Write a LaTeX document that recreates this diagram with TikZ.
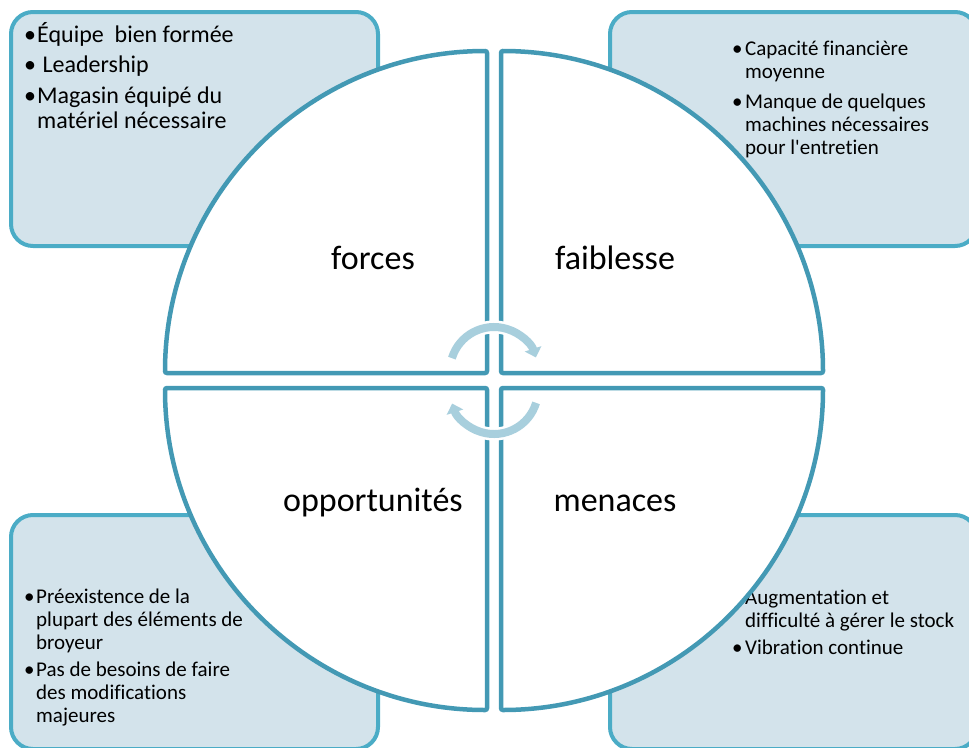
\documentclass[tikz,border=0pt]{standalone}
\usepackage{fontspec}
\setmainfont{Carlito}[Ligatures={NoCommon}]
\usetikzlibrary{arrows.meta}

\definecolor{bordquart}{RGB}{67,153,180}
\definecolor{bordcadre}{RGB}{75,172,198}
\definecolor{fondcadre}{RGB}{211,227,235}
\definecolor{fleche}{RGB}{168,207,221}

\newcommand{\puce}[1]{\makebox[#1][l]{\textbullet}}

\tikzset{
    cadre/.style={draw=bordcadre, fill=fondcadre, line width=4pt, rounded corners=22pt},
    quartier/.style={draw=bordquart, fill=white, line width=4.5pt, rounded corners=2pt},
    titre/.style={font=\fontsize{34}{40}\selectfont, anchor=base, inner sep=0pt},
    liste/.style={anchor=base west, inner sep=0pt},
    tour/.style={draw=fleche, line width=8pt, -{Triangle[width=17pt,length=9pt]},
        preaction={draw=white, line width=13pt, -}}
}

\begin{document}
\begin{tikzpicture}[x=1pt, y=-1pt]
                \useasboundingbox (0,0) rectangle (969,747);

                \draw[cadre] (11, 12) rectangle (378, 246);
                \draw[cadre] (610, 12) rectangle (977, 246);
                \draw[cadre] (11, 515) rectangle (378, 749);
                \draw[cadre] (610, 515) rectangle (977, 749);

                \node[liste, font=\fontsize{24}{25.5}\selectfont] (forcestxt) at (24, 42) {%
                    \begin{tabular}[t]{@{}l@{}l@{}}
                        \puce{13pt} & Équipe\ \ bien formée\\[5pt]
                        \puce{13pt} & \ Leadership\\[5pt]
                        \puce{13pt} & Magasin équipé du\\
                        & matériel nécessaire
                    \end{tabular}};

                \node[liste, font=\fontsize{21}{23}\selectfont] (faibtxt) at (732, 55) {%
                    \begin{tabular}[t]{@{}l@{}l@{}}
                        \puce{13pt} & Capacité financière\\
                        & moyenne\\[7pt]
                        \puce{13pt} & Manque de quelques\\
                        & machines nécessaires\\
                        & pour l\textquotesingle entretien
                    \end{tabular}};

                \node[liste, font=\fontsize{21}{23}\selectfont] (opporttxt) at (24, 603) {%
                    \begin{tabular}[t]{@{}l@{}l@{}}
                        \puce{12pt} & Préexistence de la\\
                        & plupart des éléments de\\
                        & broyeur\\[4pt]
                        \puce{12pt} & Pas de besoins de faire\\
                        & des modifications\\
                        & majeures
                    \end{tabular}};

                \node[liste, font=\fontsize{21}{23}\selectfont] (menacetxt) at (732, 604) {%
                    \begin{tabular}[t]{@{}l@{}l@{}}
                        \puce{13pt} & Augmentation\ et\\
                        & difficulté à gérer le stock\\[4pt]
                        \puce{13pt} & Vibration continue
                    \end{tabular}};

                \draw[quartier] (487, 373) -- (165, 373) arc[start angle=180, end angle=270, radius=322] -- cycle;
                \draw[quartier] (501, 373) -- (501, 51) arc[start angle=270, end angle=360, radius=322] -- cycle;
                \draw[quartier] (501, 388) -- (823, 388) arc[start angle=0, end angle=90, radius=322] -- cycle;
                \draw[quartier] (487, 388) -- (487, 710) arc[start angle=90, end angle=180, radius=322] -- cycle;

                \node[titre] (forces) at (373, 269) {forces};
                \node[titre] (faiblesse) at (615, 269) {faiblesse};
                \node[titre] (opportunites) at (373, 511) {opportunités};
                \node[titre] (menaces) at (615, 511) {menaces};

                \draw[tour] (494, 371) ++(197:44) arc[start angle=197, end angle=342, radius=44];
                \draw[tour] (494, 390) ++(17:44) arc[start angle=17, end angle=162, radius=44];
\end{tikzpicture}
\end{document}
